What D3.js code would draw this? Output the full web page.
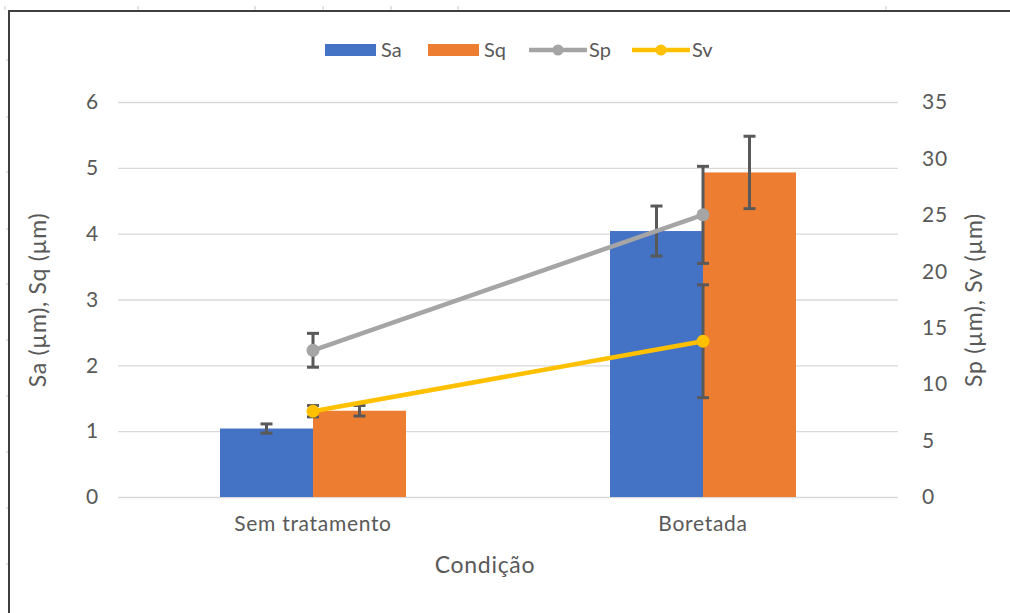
<!DOCTYPE html>
<html>
<head>
<meta charset="utf-8">
<script src="https://cdn.jsdelivr.net/npm/d3@7/dist/d3.min.js"></script>
<style>
  html, body { margin: 0; padding: 0; background: #fff; }
  svg { display: block; font-family: Lato, "Open Sans", sans-serif; }
</style>
</head>
<body>
<svg id="chart" width="1010" height="613"></svg>
<script>
// Surface roughness by condition
const categories = ["Sem tratamento", "Boretada"];
const saValues = [1.04, 4.04];
const saErrors = [0.07, 0.38];
const sqValues = [1.31, 4.93];
const sqErrors = [0.08, 0.55];
const spValues = [13.0, 25.0];
const spErrors = [1.5, 4.3];
const svValues = [7.6, 13.8];
const svErrors = [0.5, 5.0];
const leftTicks = [0, 1, 2, 3, 4, 5, 6];
const rightTicks = [0, 5, 10, 15, 20, 25, 30, 35];

const colors = { Sa: "#4472C4", Sq: "#ED7D31", Sp: "#A5A5A5", Sv: "#FFC000" };
const textColor = "#595959";
const errColor = "#595959";
const tickFont = 21, titleFont = 23, spacing = 0.7;

const svg = d3.select("#chart");
const W = 1010, H = 613;
const plot = { left: 118, right: 898, top: 102, bottom: 497 };

// outer frame
svg.append("rect").attr("x", 9).attr("y", 11).attr("width", W + 10).attr("height", H + 10)
  .attr("fill", "none").attr("stroke", "#3f3f3f").attr("stroke-width", 2);
// ruler marks along the frame
const rulerTop = [5, 138, 255, 323, 391, 458, 886];
svg.selectAll(".rt").data(rulerTop).enter().append("line")
  .attr("x1", d => d).attr("x2", d => d).attr("y1", 6).attr("y2", 10)
  .attr("stroke", "#c8c8c8").attr("stroke-width", 1);
const rulerLeft = [60, 117, 172, 229, 284, 340, 396, 452, 508, 564];
svg.selectAll(".rl").data(rulerLeft).enter().append("line")
  .attr("x1", 6).attr("x2", 8).attr("y1", d => d).attr("y2", d => d)
  .attr("stroke", "#c8c8c8").attr("stroke-width", 1);

const x = d3.scaleBand().domain(categories).range([plot.left, plot.right]);
const yL = d3.scaleLinear().domain([0, 6]).range([plot.bottom, plot.top]);
const yR = d3.scaleLinear().domain([0, 35]).range([plot.bottom, plot.top]);
const barW = 93;

// gridlines from the left axis
const gridAxis = d3.axisLeft(yL).tickValues(leftTicks).tickSize(-(plot.right - plot.left)).tickFormat("");
const grid = svg.append("g").attr("transform", `translate(${plot.left},0)`).call(gridAxis);
grid.select(".domain").remove();
grid.selectAll(".tick line").attr("stroke", "#d9d9d9").attr("stroke-width", 1.3);

function styleLabels(sel) {
  sel.selectAll("text").attr("fill", textColor).attr("font-size", tickFont)
    .attr("font-family", "Lato, sans-serif").attr("letter-spacing", spacing);
}

// left axis labels
const leftAxis = svg.append("g").attr("transform", `translate(${plot.left},0)`)
  .call(d3.axisLeft(yL).tickValues(leftTicks).tickFormat(d3.format("d")).tickSize(0).tickPadding(19));
leftAxis.select(".domain").remove();
styleLabels(leftAxis);

// right axis labels
const rightAxis = svg.append("g").attr("transform", `translate(${plot.right},0)`)
  .call(d3.axisRight(yR).tickValues(rightTicks).tickFormat(d3.format("d")).tickSize(0).tickPadding(24));
rightAxis.select(".domain").remove();
styleLabels(rightAxis);

// category axis labels
const bottomAxis = svg.append("g").attr("transform", `translate(0,${plot.bottom})`)
  .call(d3.axisBottom(x).tickSize(0).tickPadding(19));
bottomAxis.select(".domain").remove();
styleLabels(bottomAxis);

// axis titles
function title(t) {
  return t.attr("text-anchor", "middle").attr("fill", textColor)
    .attr("font-size", titleFont).attr("letter-spacing", spacing);
}
title(svg.append("text").attr("x", 485).attr("y", 573)).text("Condição");
title(svg.append("text").attr("transform", `translate(46,300) rotate(-90)`)).text("Sa (µm), Sq (µm)");
title(svg.append("text").attr("transform", `translate(982,300) rotate(-90)`)).text("Sp (µm), Sv (µm)");

// bars
const cx = c => x(c) + x.bandwidth() / 2;
const barSeries = [
  { name: "Sa", values: saValues, errors: saErrors, offset: -barW },
  { name: "Sq", values: sqValues, errors: sqErrors, offset: 0 }
];
barSeries.forEach(s => {
  svg.selectAll(".bar-" + s.name).data(categories).enter().append("rect")
    .attr("x", c => cx(c) + s.offset)
    .attr("y", (c, i) => yL(s.values[i]))
    .attr("width", barW)
    .attr("height", (c, i) => yL(0) - yL(s.values[i]))
    .attr("fill", colors[s.name]);
});

function errorBar(g, xc, yTop, yBot) {
  g.append("line").attr("x1", xc).attr("x2", xc).attr("y1", yTop).attr("y2", yBot)
    .attr("stroke", errColor).attr("stroke-width", 3);
  [yTop, yBot].forEach(yy => g.append("line").attr("x1", xc - 6).attr("x2", xc + 6)
    .attr("y1", yy).attr("y2", yy).attr("stroke", errColor).attr("stroke-width", 3));
}

const errG = svg.append("g");
barSeries.forEach(s => {
  categories.forEach((c, i) => {
    const xc = cx(c) + s.offset + barW / 2;
    errorBar(errG, xc, yL(s.values[i] + s.errors[i]), yL(s.values[i] - s.errors[i]));
  });
});

// line series on the right axis
const lineSeries = [
  { name: "Sp", values: spValues, errors: spErrors },
  { name: "Sv", values: svValues, errors: svErrors }
];
const line = d3.line().x(d => cx(d.c)).y(d => yR(d.v));
lineSeries.forEach(s => {
  const pts = categories.map((c, i) => ({ c, v: s.values[i], e: s.errors[i] }));
  const g = svg.append("g");
  pts.forEach(p => errorBar(g, cx(p.c), yR(p.v + p.e), yR(p.v - p.e)));
  g.append("path").datum(pts).attr("d", line).attr("fill", "none")
    .attr("stroke", colors[s.name]).attr("stroke-width", 4.5).attr("stroke-linecap", "round");
  g.selectAll("circle").data(pts).enter().append("circle")
    .attr("cx", p => cx(p.c)).attr("cy", p => yR(p.v)).attr("r", 6.5)
    .attr("fill", colors[s.name]);
});

// legend
const legend = svg.append("g");
const legendItems = [
  { name: "Sa", type: "bar", x: 325 },
  { name: "Sq", type: "bar", x: 428 },
  { name: "Sp", type: "line", x: 529 },
  { name: "Sv", type: "line", x: 632 }
];
const ly = 50;
legendItems.forEach(it => {
  if (it.type === "bar") {
    legend.append("rect").attr("x", it.x).attr("y", ly - 6).attr("width", 51).attr("height", 12)
      .attr("fill", colors[it.name]);
  } else {
    legend.append("line").attr("x1", it.x).attr("x2", it.x + 58).attr("y1", ly).attr("y2", ly)
      .attr("stroke", colors[it.name]).attr("stroke-width", 4.5);
    legend.append("circle").attr("cx", it.x + 29).attr("cy", ly).attr("r", 5.5)
      .attr("fill", colors[it.name]);
  }
  legend.append("text").attr("x", it.x + (it.type === "bar" ? 56 : 60)).attr("y", ly + 7)
    .attr("fill", textColor).attr("font-size", 20).text(it.name);
});
</script>
</body>
</html>
